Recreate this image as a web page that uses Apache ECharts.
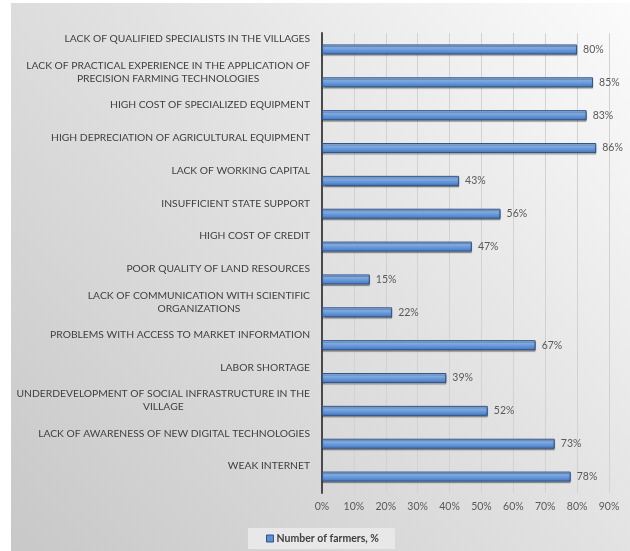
<!DOCTYPE html>
<html>
<head>
<meta charset="utf-8">
<script src="https://cdn.jsdelivr.net/npm/echarts@6/dist/echarts.min.js"></script>
<style>
  html, body { margin: 0; padding: 0; background: #fff; }
  #chart { width: 630px; height: 551px; }
</style>
</head>
<body>
<div id="chart"></div>
<script>
// categories, top to bottom
var categories = [
  'LACK OF QUALIFIED SPECIALISTS IN THE VILLAGES',
  'LACK OF PRACTICAL EXPERIENCE IN THE APPLICATION OF\nPRECISION FARMING TECHNOLOGIES',
  'HIGH COST OF SPECIALIZED EQUIPMENT',
  'HIGH DEPRECIATION OF AGRICULTURAL EQUIPMENT',
  'LACK OF WORKING CAPITAL',
  'INSUFFICIENT STATE SUPPORT',
  'HIGH COST OF CREDIT',
  'POOR QUALITY OF LAND RESOURCES',
  'LACK OF COMMUNICATION WITH SCIENTIFIC\nORGANIZATIONS',
  'PROBLEMS WITH ACCESS TO MARKET INFORMATION',
  'LABOR SHORTAGE',
  'UNDERDEVELOPMENT OF SOCIAL INFRASTRUCTURE IN THE\nVILLAGE',
  'LACK OF AWARENESS OF NEW DIGITAL TECHNOLOGIES',
  'WEAK INTERNET'
];
var farmers = [80, 85, 83, 86, 43, 56, 47, 15, 22, 67, 39, 52, 73, 78];
var seriesName = 'Number of farmers, %';

var chart = echarts.init(document.getElementById('chart'));

chart.setOption({
  animation: false,
  textStyle: { fontFamily: 'Lato' },
  graphic: [{
    type: 'rect',
    z: -10,
    shape: { x: 11, y: 3, width: 619, height: 548 },
    style: {
      fill: new echarts.graphic.LinearGradient(1, 0, 0, 1, [
        { offset: 0, color: '#fbfbfb' },
        { offset: 0.45, color: '#e2e2e2' },
        { offset: 1, color: '#c8c8c8' }
      ])
    }
  }],
  grid: { left: 322, right: 21, top: 33, height: 460, containLabel: false },
  legend: {
    data: [{
      name: seriesName,
      itemStyle: { color: '#5b8fd6', borderColor: '#2d5489', borderWidth: 1 }
    }],
    left: 248,
    top: 528,
    icon: 'rect',
    itemWidth: 7,
    itemHeight: 7,
    itemGap: 3,
    padding: [5, 16, 5, 18],
    backgroundColor: '#e8e8e8',
    textStyle: { fontFamily: 'Lato', fontSize: 10.5, fontWeight: 'bold', color: '#404040', padding: [0, 0, 0, -2] }
  },
  xAxis: {
    type: 'value',
    min: 0,
    max: 90,
    interval: 10,
    axisLine: { show: false },
    axisTick: { show: false },
    axisLabel: { formatter: '{value}%', color: '#595959', fontSize: 10.5, margin: 8 },
    splitLine: { lineStyle: { color: '#d2d2d2', width: 1 } }
  },
  yAxis: {
    type: 'category',
    inverse: true,
    data: categories,
    axisLine: { lineStyle: { color: '#4a4a4a', width: 2 } },
    axisTick: { show: false },
    axisLabel: {
      interval: 0,
      showMinLabel: true,
      showMaxLabel: true,
      hideOverlap: false,
      margin: 12,
      align: 'right',
      // text sits above the bar: an empty line of 21px under it lifts it
      formatter: function (v) {
        return v.split('\n').map(function (s) { return '{t|' + s + '}'; }).join('\n') + '\n{gap|}';
      },
      rich: {
        t: { color: '#404040', fontSize: 10.3, lineHeight: 13, align: 'center', fontFamily: 'Lato' },
        gap: { height: 21, lineHeight: 21 }
      }
    }
  },
  series: [{
    name: seriesName,
    type: 'bar',
    data: farmers,
    barWidth: 10,
    itemStyle: {
      color: new echarts.graphic.LinearGradient(0, 0, 0, 1, [
        { offset: 0, color: '#a7c8f2' },
        { offset: 0.5, color: '#6d9edf' },
        { offset: 1, color: '#4576bb' }
      ]),
      borderColor: '#2f568c',
      borderWidth: 1,
      shadowColor: 'rgba(0,0,0,0.35)',
      shadowOffsetY: 1.5,
      shadowBlur: 1
    },
    label: {
      show: true,
      position: 'right',
      distance: 6,
      formatter: '{c}%',
      color: '#595959',
      fontSize: 10.5
    }
  }]
});
</script>
</body>
</html>
